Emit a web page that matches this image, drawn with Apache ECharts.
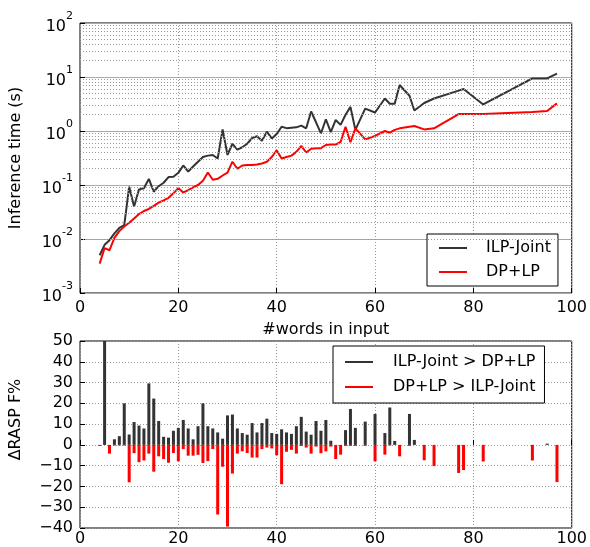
<!DOCTYPE html>
<html>
<head>
<meta charset="utf-8">
<script src="https://cdn.jsdelivr.net/npm/echarts@6/dist/echarts.min.js"></script>
<style>
  html, body { margin: 0; padding: 0; background: #fff; }
  #chart { width: 590px; height: 547px; }
</style>
</head>
<body>
<div id="chart"></div>
<script>
// number of words in the input sentence
var words = [4, 5, 6, 7, 8, 9, 10, 11, 12, 13, 14, 15, 16, 17, 18, 19, 20, 21, 22, 23,
  24, 25, 26, 27, 28, 29, 30, 31, 32, 33, 34, 35, 36, 37, 38, 39, 40, 41, 42, 43,
  44, 45, 46, 47, 48, 49, 50, 51, 52, 53, 54, 55, 56, 58, 60, 62, 63, 64, 65, 67,
  68, 70, 72, 77, 78, 82, 92, 95, 97];

// inference time in seconds
var ilpJoint = [0.005, 0.0078, 0.0095, 0.0127, 0.016, 0.018, 0.093, 0.040, 0.083, 0.087,
  0.13, 0.075, 0.095, 0.11, 0.14, 0.142, 0.168, 0.23, 0.177, 0.22,
  0.27, 0.33, 0.35, 0.36, 0.31, 1.07, 0.36, 0.58, 0.45, 0.50,
  0.58, 0.74, 0.80, 0.66, 0.97, 0.73, 0.88, 1.2, 1.13, 1.15,
  1.17, 1.26, 1.12, 2.3, 1.45, 0.9, 1.65, 0.95, 1.6, 1.3,
  2.0, 2.8, 1.05, 2.6, 2.2, 4.0, 3.2, 3.2, 7.1, 4.5,
  2.4, 3.3, 4.0, 5.6, 6.0, 3.1, 9.4, 9.4, 11.5];
var dpLp = [0.0035, 0.0068, 0.0062, 0.0105, 0.014, 0.017, 0.020, 0.024, 0.029, 0.033,
  0.036, 0.041, 0.047, 0.052, 0.058, 0.07, 0.087, 0.073, 0.08, 0.09,
  0.10, 0.12, 0.17, 0.125, 0.13, 0.15, 0.17, 0.27, 0.20, 0.23,
  0.235, 0.235, 0.24, 0.25, 0.27, 0.33, 0.44, 0.31, 0.33, 0.35,
  0.41, 0.53, 0.40, 0.47, 0.48, 0.48, 0.55, 0.56, 0.56, 0.63,
  1.2, 0.62, 1.12, 0.70, 0.81, 1.0, 0.93, 1.05, 1.12, 1.2,
  1.24, 1.07, 1.12, 2.06, 2.06, 2.06, 2.25, 2.35, 3.25];

// delta RASP F% (positive: ILP-Joint better, negative: DP+LP better)
var ilpBetter = [0, 52, 0, 2.7, 4.2, 20, 5, 11, 9.3, 7.9,
  29.6, 22.3, 11.5, 3.9, 3.5, 6.8, 8.2, 12, 7.9, 2.7,
  9, 20, 9, 7.9, 6, 3, 14.2, 14.6, 7.9, 5.7,
  4.9, 10.5, 6, 10.5, 12.6, 5.7, 5.3, 7.5, 6, 5.3,
  9, 13.5, 6.4, 4.9, 11.5, 6.8, 12, 2, 0, 0,
  7.1, 17.3, 8.2, 11.2, 14.9, 5.7, 18, 1.9, 0, 14.9,
  2.4, 0, 0, 0, 0, 0, 0, 0.6, 0];
var dpBetter = [-0.5, 0, -4.2, -0.3, -0.3, -0.3, -18, -4, -8.3, -7.5,
  -4.2, -12.9, -5.5, -6.8, -8.6, -3.9, -7.9, -2, -5.2, -5.2,
  -4.8, -8.7, -7.8, -2, -33.5, -10.5, -39.3, -13.8, -4.2, -3.1,
  -3.9, -6.1, -6.1, -2, -1.3, -1.7, -5, -18.9, -3.3, -2.4,
  -4.2, -0.5, -1.3, -4.2, -0.8, -4, -3.1, -0.8, -6.8, -4.7,
  -0.5, -0.5, -0.5, -0.5, -7.9, -4.7, -0.3, 0, -5.5, -0.5,
  0, -7.4, -10.2, -13.5, -12.1, -8, -7.5, 0, -17.9];

// minor log gridlines
var decades = [0.001, 0.01, 0.1, 1, 10];
var minorSteps = [2, 3, 4, 5, 6, 7, 8, 9];

var font = 'DejaVu Sans';
var dotted = { type: [1, 2], color: '#999', width: 1 };

var minorLines = [];
decades.forEach(function(d) {
  minorSteps.forEach(function(m) { minorLines.push({ yAxis: d * m }); });
});

function pairs(ys) {
  return words.map(function(w, i) { return [w, ys[i]]; });
}

var chart = echarts.init(document.getElementById('chart'));

chart.setOption({
  animation: false,
  textStyle: { fontFamily: font },
  grid: [
    { left: 79, top: 23, width: 493, height: 270, show: true, borderColor: '#000', borderWidth: 1 },
    { left: 79, top: 341, width: 493, height: 190, show: true, borderColor: '#000', borderWidth: 1 }
  ],
  legend: [{
    left: 427, top: 234, orient: 'vertical',
    data: ['ILP-Joint', 'DP+LP'],
    icon: 'rect', itemWidth: 28, itemHeight: 2, itemGap: 6,
    padding: [5, 7, 5, 12],
    borderColor: '#000', borderWidth: 1, backgroundColor: '#fff',
    textStyle: { fontFamily: font, fontSize: 16, color: '#000', lineHeight: 18, padding: [0, 0, 0, 14] }
  }, {
    left: 333, top: 346, orient: 'vertical',
    data: ['ILP-Joint > DP+LP', 'DP+LP > ILP-Joint'],
    icon: 'rect', itemWidth: 28, itemHeight: 2, itemGap: 7,
    padding: [7, 9, 7, 12],
    borderColor: '#000', borderWidth: 1, backgroundColor: '#fff',
    textStyle: { fontFamily: font, fontSize: 16, color: '#000', lineHeight: 18, padding: [0, 0, 0, 15] }
  }],
  xAxis: [{
    gridIndex: 0, type: 'value', min: 0, max: 100, interval: 20,
    name: '#words in input', nameLocation: 'middle', nameGap: 29,
    nameTextStyle: { fontFamily: font, fontSize: 16, color: '#000' },
    axisLine: { show: false },
    axisTick: { inside: true, length: 5, lineStyle: { color: '#000' } },
    axisLabel: { fontFamily: font, fontSize: 16, color: '#000', margin: 7 },
    splitLine: { lineStyle: dotted }
  }, {
    gridIndex: 1, type: 'value', min: 0, max: 100, interval: 20,
    axisLine: { show: false },
    axisTick: { inside: true, length: 5, lineStyle: { color: '#000' } },
    axisLabel: { fontFamily: font, fontSize: 16, color: '#000', margin: 3 },
    splitLine: { lineStyle: dotted }
  }],
  yAxis: [{
    gridIndex: 0, type: 'log', logBase: 10, min: 0.001, max: 100,
    name: 'Inference time (s)', nameLocation: 'middle', nameGap: 56,
    nameTextStyle: { fontFamily: font, fontSize: 16, color: '#000' },
    axisLine: { show: false },
    axisTick: { inside: true, length: 5, lineStyle: { color: '#000' } },
    axisLabel: {
      margin: 7,
      formatter: function(v) {
        var e = Math.round(Math.log(v) / Math.LN10);
        return '{b|10}{s|' + e + '}';
      },
      rich: {
        b: { fontFamily: font, fontSize: 16, color: '#000', lineHeight: 24, verticalAlign: 'bottom' },
        s: { fontFamily: font, fontSize: 11, color: '#000', lineHeight: 24, verticalAlign: 'top' }
      }
    },
    splitLine: { lineStyle: { color: '#aaa', width: 1 } }
  }, {
    gridIndex: 1, type: 'value', min: -40, max: 50, interval: 10,
    name: 'ΔRASP F%', nameLocation: 'middle', nameGap: 56,
    nameTextStyle: { fontFamily: font, fontSize: 16, color: '#000', padding: [0, 0, 0, 30] },
    axisLine: { show: false },
    axisTick: { inside: true, length: 5, lineStyle: { color: '#000' } },
    axisLabel: {
      fontFamily: font, fontSize: 16, color: '#000', margin: 7,
      formatter: function(v) { return v < 0 ? '\u2212' + (-v) : String(v); }
    },
    splitLine: { lineStyle: dotted }
  }],
  series: [{
    name: 'minor-grid', type: 'line', xAxisIndex: 0, yAxisIndex: 0, data: [], z: 1,
    silent: true,
    markLine: {
      silent: true, symbol: 'none', animation: false,
      label: { show: false },
      lineStyle: dotted,
      data: minorLines
    }
  }, {
    name: 'ILP-Joint', type: 'line', xAxisIndex: 0, yAxisIndex: 0,
    data: pairs(ilpJoint), symbol: 'none',
    lineStyle: { color: '#333', width: 2 }, itemStyle: { color: '#333' }
  }, {
    name: 'DP+LP', type: 'line', xAxisIndex: 0, yAxisIndex: 0,
    data: pairs(dpLp), symbol: 'none',
    lineStyle: { color: '#f00', width: 2 }, itemStyle: { color: '#f00' }
  }, {
    name: 'ILP-Joint > DP+LP', type: 'bar', xAxisIndex: 1, yAxisIndex: 1,
    data: pairs(ilpBetter), barWidth: 3, barGap: '-100%',
    itemStyle: { color: '#333' }
  }, {
    name: 'DP+LP > ILP-Joint', type: 'bar', xAxisIndex: 1, yAxisIndex: 1,
    data: pairs(dpBetter), barWidth: 3, barGap: '-100%',
    itemStyle: { color: '#f00' }
  }]
});

window.addEventListener('resize', function() { chart.resize(); });
</script>
</body>
</html>
